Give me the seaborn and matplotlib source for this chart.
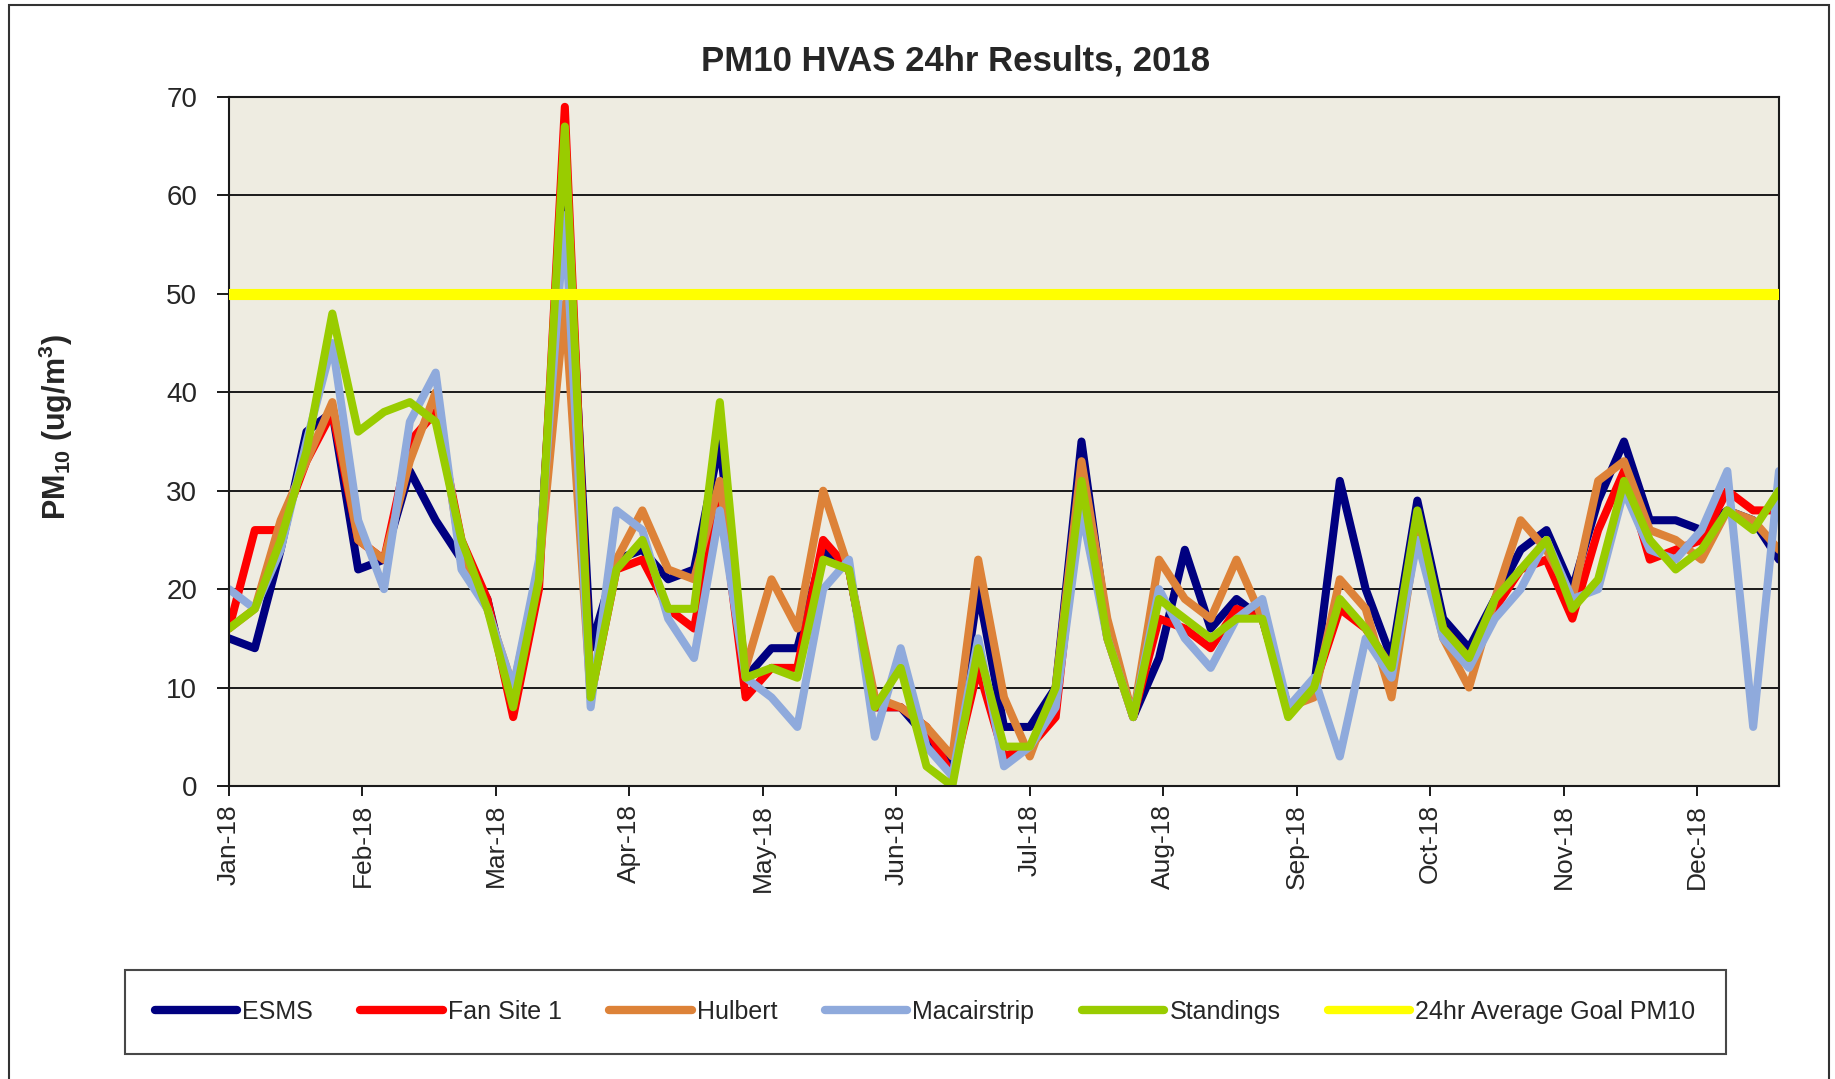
import matplotlib
matplotlib.use("Agg")
from matplotlib import pyplot as plt
import matplotlib.dates as mdates
from matplotlib.lines import Line2D
from matplotlib.patches import Rectangle
import seaborn as sns
import numpy as np
import pandas as pd

# sample dates: one HVAS run every 6 days
dates = pd.date_range("2018-01-01", periods=61, freq="6D")
tick_dates = pd.date_range("2018-01-01", periods=12, freq="31D")

esms = [15, 14, 24, 36, 38, 22, 23, 32, 27, 23, 19, 8, 22, 64, 14, 23, 24, 21, 22, 35,
        11, 14, 14, 24, 22, 8, 8, 5, 2, 20, 6, 6, 10, 35, 16, 7, 13, 24, 16, 19,
        17, 8, 10, 31, 20, 13, 29, 17, 14, 19, 24, 26, 20, 29, 35, 27, 27, 26, 28, 27, 23]
fan_site_1 = [16, 26, 26, 33, 38, 25, 23, 35, 38, 25, 19, 7, 20, 69, 9, 22, 23, 18, 16, 30,
              9, 12, 12, 25, 22, 8, 8, 6, 1, 12, 3, 4, 7, 31, 15, 7, 17, 16, 14, 18,
              17, 8, 10, 18, 16, 12, 26, 16, 13, 18, 22, 23, 17, 26, 32, 23, 24, 25, 30, 28, 28]
hulbert = [16, 18, 27, 33, 39, 25, 23, 33, 40, 23, 18, 10, 22, 49, 9, 23, 28, 22, 21, 31,
           12, 21, 16, 30, 22, 9, 8, 6, 3, 23, 9, 3, 10, 33, 17, 7, 23, 19, 17, 23,
           17, 8, 9, 21, 18, 9, 26, 15, 10, 19, 27, 24, 19, 31, 33, 26, 25, 23, 28, 27, 24]
macairstrip = [20, 18, 24, 35, 45, 27, 20, 37, 42, 22, 18, 10, 23, 58, 8, 28, 26, 17, 13, 28,
               11, 9, 6, 20, 23, 5, 14, 4, 1, 15, 2, 4, 8, 28, 15, 7, 20, 15, 12, 17,
               19, 8, 11, 3, 15, 11, 25, 15, 12, 17, 20, 25, 19, 20, 30, 24, 23, 26, 32, 6, 32]
standings = [16, 18, 25, 34, 48, 36, 38, 39, 37, 25, 18, 8, 21, 67, 9, 22, 25, 18, 18, 39,
             11, 12, 11, 23, 22, 8, 12, 2, 0, 14, 4, 4, 10, 31, 15, 7, 19, 17, 15, 17,
             17, 7, 10, 19, 16, 12, 28, 16, 13, 19, 22, 25, 18, 21, 31, 25, 22, 24, 28, 26, 30]
goal_pm10 = 50

sites = ["ESMS", "Fan Site 1", "Hulbert", "Macairstrip", "Standings"]
colors = ["#000080", "#FF0000", "#DD8238", "#8FAADC", "#99CC00"]
goal_label = "24hr Average Goal PM10"
goal_color = "#FFFF00"

df = pd.DataFrame({
    "date": np.tile(dates, len(sites)),
    "site": np.repeat(sites, len(dates)),
    "pm10": esms + fan_site_1 + hulbert + macairstrip + standings,
})

sns.set_style("white")
plt.rcParams["font.family"] = ["Liberation Sans Narrow", "Liberation Sans", "DejaVu Sans"]
plt.rcParams["mathtext.fontset"] = "custom"
plt.rcParams["mathtext.rm"] = "Liberation Sans"
plt.rcParams["mathtext.bf"] = "Liberation Sans:bold"

fig = plt.figure(figsize=(18.35, 10.79), dpi=100)
ax = fig.add_axes([229 / 1835, 1 - 786 / 1079, 1550 / 1835, 689 / 1079])
ax.set_facecolor("#EEECE1")

sns.lineplot(data=df, x="date", y="pm10", hue="site", hue_order=sites,
             palette=colors, linewidth=5.8, ax=ax, legend=False,
             solid_joinstyle="round", solid_capstyle="round")
ax.axhline(goal_pm10, color=goal_color, linewidth=8, zorder=5)

ax.set_xlim(dates[0], dates[-1])
ax.set_ylim(0, 70)
ax.set_yticks(np.arange(0, 71, 10))
ax.set_xticks(tick_dates)
ax.xaxis.set_major_formatter(mdates.DateFormatter("%b-%y"))
ax.grid(axis="y", color="#1a1a1a", linewidth=1.4)
ax.set_axisbelow(True)
for s in ax.spines.values():
    s.set_color("#1a1a1a")
    s.set_linewidth(1.5)
ax.tick_params(axis="x", direction="out", length=7, width=1.4, color="#1a1a1a",
               labelsize=19, rotation=90, pad=6, bottom=True)
ax.tick_params(axis="y", direction="out", length=9, width=1.4, color="#1a1a1a",
               labelsize=20, pad=14, left=True)
ax.set_xlabel("")
ax.set_ylabel("")

fig.text(956 / 1835, 1 - 61 / 1079, "PM10 HVAS 24hr Results, 2018",
         fontsize=25, fontweight="bold", ha="center", va="center")
fig.text(56 / 1835, 1 - 427 / 1079, r"PM$_{\mathbf{10}}$ (ug/m$^{\mathbf{3}}$)",
         fontsize=22, fontweight="bold", rotation=90, ha="center", va="center")

handles = [Line2D([0], [0], color=c, linewidth=6) for c in colors]
handles.append(Line2D([0], [0], color=goal_color, linewidth=6))
leg = fig.legend(handles, sites + [goal_label], loc="center",
                 bbox_to_anchor=(925 / 1835, 1 - 1012 / 1079), ncol=6, fontsize=18,
                 frameon=True, fancybox=False, edgecolor="#1a1a1a",
                 handlelength=3.3, handletextpad=0.2, columnspacing=1.9,
                 borderpad=1.2)
leg.get_frame().set_linewidth(1.5)

# chart area frame
fig.patches.append(Rectangle((9 / 1835, -0.01), 1820 / 1835, 1.01 - 5 / 1079,
                             transform=fig.transFigure, fill=False,
                             edgecolor="#333333", linewidth=1.5))

fig.savefig("out.png", dpi=100)
